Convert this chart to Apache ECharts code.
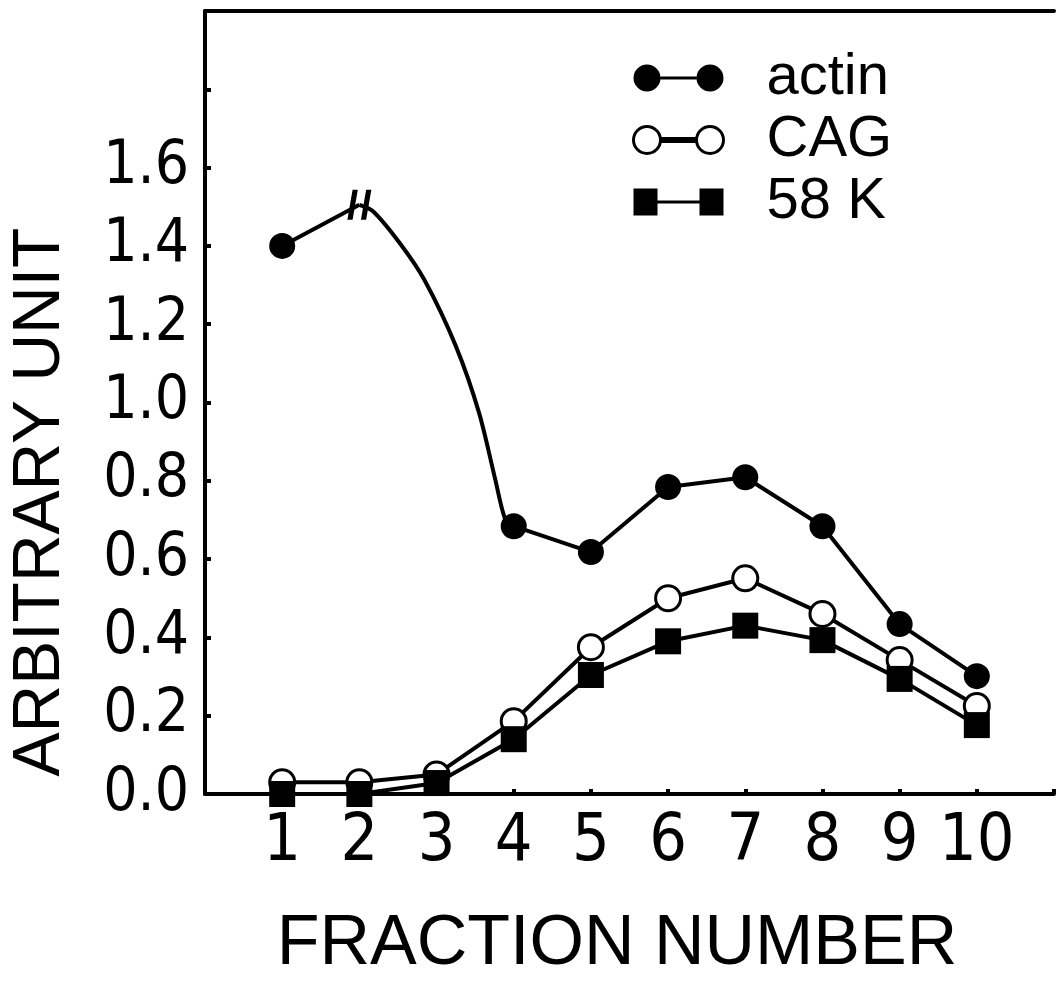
<!DOCTYPE html>
<html>
<head>
<meta charset="utf-8">
<script src="https://cdn.jsdelivr.net/npm/echarts@6/dist/echarts.min.js"></script>
<style>
  html, body { margin: 0; padding: 0; background: #fff; }
  #chart { width: 1057px; height: 985px; }
</style>
</head>
<body>
<div id="chart"></div>
<script>
// fraction numbers on the x axis
const fractions = [1, 2, 3, 4, 5, 6, 7, 8, 9, 10];
// actin: no marker at fraction 3, the value at 2 is cut off by the axis break
const actinValues = [1.40, 1.505, null, 0.684, 0.618, 0.784, 0.809, 0.684, 0.434, 0.301];
// points read along the actin curve between the break and fraction 4
const actinCurveX = [2.18, 2.52, 2.84, 3.25, 3.55, 3.76, 3.89];
const actinCurveY = [1.488, 1.408, 1.314, 1.144, 0.974, 0.804, 0.702];
const cagValues = [0.03, 0.03, 0.05, 0.186, 0.375, 0.50, 0.551, 0.46, 0.342, 0.225];
const k58Values = [0, 0, 0.028, 0.14, 0.304, 0.39, 0.43, 0.393, 0.294, 0.176];
const breakAt = 2;
const curveEnd = 4;

const narrowFont = "'Liberation Sans Narrow', 'DejaVu Sans Condensed', 'Liberation Sans', sans-serif";
const wideFont = "'Liberation Sans', 'DejaVu Sans', sans-serif";

// "//" break mark
const breakSymbol = "path://M6,0 L11,0 L6,30 L1,30 Z M19,0 L24,0 L19,30 L14,30 Z";
// legend icons: marker - line - marker
const iconCircles = "path://M0,13.5 A13.5,13.5 0 1,1 27,13.5 A13.5,13.5 0 1,1 0,13.5 Z M27,12 L63,12 L63,15 L27,15 Z M63,13.5 A13.5,13.5 0 1,1 90,13.5 A13.5,13.5 0 1,1 63,13.5 Z";
const iconSquares = "path://M0,0 L24,0 L24,27 L0,27 Z M24,12 L66,12 L66,15 L24,15 Z M66,0 L90,0 L90,27 L66,27 Z";

// marked points, with a gap where the curve takes over
const actinData = fractions.map((f, i) => {
  if (actinValues[i] == null) return [f, "-"];
  if (f === breakAt) {
    return { value: [f, actinValues[i]], symbol: breakSymbol, symbolSize: [24, 30] };
  }
  return [f, actinValues[i]];
});
// drawn curve from the break down to fraction 4
const actinCurveData = [[breakAt, actinValues[fractions.indexOf(breakAt)]]];
actinCurveX.forEach((x, i) => actinCurveData.push([x, actinCurveY[i]]));
actinCurveData.push([curveEnd, actinValues[fractions.indexOf(curveEnd)]]);

const cagData = fractions.map((f, i) => [f, cagValues[i]]);
const k58Data = fractions.map((f, i) => [f, k58Values[i]]);

let mychart = echarts.init(document.getElementById("chart"));
mychart.setOption({
  animation: false,
  backgroundColor: "#fff",
  grid: { left: 205, right: -7, top: 11, bottom: 188, containLabel: false },
  xAxis: [
    {
      type: "value",
      min: 0,
      max: 11,
      interval: 1,
      name: "FRACTION NUMBER",
      nameLocation: "middle",
      nameGap: 116,
      nameTextStyle: { fontFamily: wideFont, fontSize: 70, color: "#000", padding: [0, 25, 0, 0] },
      axisLine: { show: true, onZero: false, lineStyle: { color: "#000", width: 4 } },
      axisTick: { show: true, inside: true, length: 5, lineStyle: { color: "#000", width: 4 } },
      axisLabel: {
        margin: 16,
        fontFamily: narrowFont,
        fontSize: 66,
        color: "#000",
        formatter: v => (v >= 1 && v <= 10 ? String(v) : "")
      },
      splitLine: { show: false }
    },
    {
      // top frame line
      type: "value",
      position: "top",
      min: 0,
      max: 11,
      interval: 1,
      axisLine: { show: true, onZero: false, lineStyle: { color: "#000", width: 4 } },
      axisTick: { show: false },
      axisLabel: { show: false },
      splitLine: { show: false }
    }
  ],
  yAxis: {
    type: "value",
    min: 0,
    max: 2.0,
    interval: 0.2,
    axisLine: { show: true, onZero: false, lineStyle: { color: "#000", width: 4 } },
    axisTick: { show: true, inside: true, length: 6, lineStyle: { color: "#000", width: 4 } },
    axisLabel: {
      margin: 16,
      fontFamily: narrowFont,
      fontSize: 60,
      color: "#000",
      formatter: v => (v <= 1.6001 ? v.toFixed(1) : "")
    },
    splitLine: { show: false }
  },
  legend: {
    orient: "vertical",
    left: 627,
    top: 43,
    itemWidth: 90,
    itemHeight: 27,
    itemGap: 2,
    textStyle: { fontFamily: wideFont, fontSize: 58, color: "#000", lineHeight: 60, padding: [0, 0, 0, 38] },
    data: [
      { name: "actin", icon: iconCircles, itemStyle: { color: "#000", borderWidth: 0 } },
      { name: "CAG", icon: iconCircles, itemStyle: { color: "#fff", borderColor: "#000", borderWidth: 3 } },
      { name: "58 K", icon: iconSquares, itemStyle: { color: "#000", borderWidth: 0 } }
    ]
  },
  graphic: [
    {
      type: "text",
      x: 41,
      y: 502,
      rotation: Math.PI / 2,
      style: {
        text: "ARBITRARY UNIT",
        fontFamily: wideFont,
        fontSize: 66,
        fill: "#000",
        align: "center",
        verticalAlign: "middle"
      }
    }
  ],
  series: [
    {
      name: "actin",
      type: "line",
      data: actinCurveData,
      symbol: "none",
      smooth: 0.3,
      lineStyle: { color: "#000", width: 4 },
      itemStyle: { color: "#000" },
      z: 2
    },
    {
      name: "actin",
      type: "line",
      data: actinData,
      connectNulls: false,
      symbol: "circle",
      symbolSize: 26,
      lineStyle: { color: "#000", width: 4 },
      itemStyle: { color: "#000" },
      z: 2
    },
    {
      name: "CAG",
      type: "line",
      data: cagData,
      symbol: "circle",
      symbolSize: 25,
      lineStyle: { color: "#000", width: 4 },
      itemStyle: { color: "#fff", borderColor: "#000", borderWidth: 3 },
      z: 3
    },
    {
      name: "58 K",
      type: "line",
      data: k58Data,
      symbol: "rect",
      symbolSize: 26,
      lineStyle: { color: "#000", width: 4 },
      itemStyle: { color: "#000" },
      z: 4
    }
  ]
});
window.addEventListener("resize", () => {
  mychart.resize();
});
</script>
</body>
</html>
